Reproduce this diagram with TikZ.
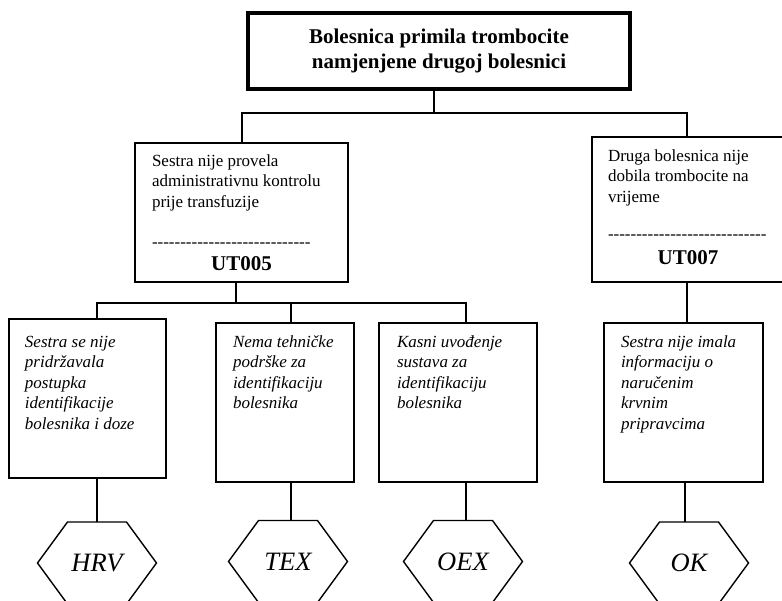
\documentclass[tikz,border=0pt]{standalone}
\usepackage{fontspec}
\setmainfont{Liberation Serif}
\usetikzlibrary{calc}
\newcount\dashcnt
\newcommand\dashrow[1]{\dashcnt=0 \loop\ifnum\dashcnt<#1 -\kern0pt\advance\dashcnt by 1 \repeat}
\newcommand\boxbody[5]{%
  \begin{minipage}[t][#2][t]{#1}\vspace*{#4}\leftskip=#3\relax\rightskip=0pt plus 1fil\relax
  \fontsize{17}{20.5}\selectfont\rule{0pt}{12pt}#5\end{minipage}}
\newcommand\hexaround[1]{%
  \draw[hexline] ($(#1)+(-59.5,0)$) -- ++(30,-41) -- ++(59,0) -- ++(30,41) -- ++(-30,41) -- ++(-59,0) -- cycle;}
\tikzset{
  conn/.style={line width=1.5pt},
  titlebox/.style={draw, line width=3.4pt, minimum width=382pt, minimum height=76pt, align=center,
    font=\fontsize{21}{25}\selectfont\bfseries, inner sep=0pt, outer sep=0pt},
  cbox/.style={draw, line width=1.5pt, inner sep=0pt, outer sep=0pt, anchor=north west},
  hexlab/.style={inner sep=0pt, font=\fontsize{26.5}{30}\selectfont\itshape},
  hexline/.style={line width=1.4pt, line join=miter},
}
\begin{document}
\begin{tikzpicture}[x=1pt, y=-1pt]
\useasboundingbox (0,0) rectangle (782,600);
\clip (0,0) rectangle (782,600);

% top event
\node[titlebox] (title) at (439,51) {Bolesnica primila trombocite\\namjenjene drugoj bolesnici};

% intermediate events
\node[cbox] (ut005) at (135,143) {\boxbody{213pt}{139pt}{17pt}{11pt}{%
  Sestra nije provela\\administrativnu kontrolu\\prije transfuzije\par
  \vspace{19.5pt}\dashrow{28}\par
  {\centering\fontsize{21}{23.5}\selectfont\bfseries UT005\par}}};
\node[cbox] (ut007) at (592,137) {\boxbody{192pt}{145pt}{16pt}{12pt}{%
  Druga bolesnica nije\\dobila trombocite na\\vrijeme\par
  \vspace{16.5pt}\dashrow{28}\par
  {\centering\fontsize{21}{25.5}\selectfont\bfseries UT007\par}}};

% basic causes
\node[cbox] (b1) at (9,319) {\boxbody{157pt}{159pt}{16pt}{16pt}{\itshape
  Sestra se nije\\pridržavala\\postupka\\identifikacije\\bolesnika i doze}};
\node[cbox] (b2) at (216,323) {\boxbody{138pt}{159pt}{17pt}{12pt}{\itshape
  Nema tehničke\\podrške za\\identifikaciju\\bolesnika}};
\node[cbox] (b3) at (379,323) {\boxbody{158pt}{159pt}{18pt}{12pt}{\itshape
  Kasni uvođenje\\sustava za\\identifikaciju\\bolesnika}};
\node[cbox] (b4) at (604,323) {\boxbody{159pt}{159pt}{17pt}{12pt}{\itshape
  Sestra nije imala\\informaciju o\\naručenim\\krvnim\\pripravcima}};

% hexagons
\node[hexlab] (hrv) at (97,563) {HRV};
\node[hexlab] (tex) at (288,561.5) {TEX};
\node[hexlab] (oex) at (463,561.5) {OEX};
\node[hexlab] (ok)  at (689,563) {OK};
\hexaround{hrv}
\hexaround{tex}
\hexaround{oex}
\hexaround{ok}
\coordinate (hrvtop) at ($(hrv)+(0,-41)$);
\coordinate (textop) at ($(tex)+(0,-41)$);
\coordinate (oextop) at ($(oex)+(0,-41)$);
\coordinate (oktop)  at ($(ok)+(0,-41)$);

% junctions
\coordinate (j0) at (434,113);
\coordinate (jL) at (242,113);
\coordinate (jR) at (687,113);
\coordinate (j1) at (236,303);
\coordinate (k1) at (97,303);
\coordinate (k2) at (291,303);
\coordinate (k3) at (466,303);
\coordinate (k4) at (685,500);

% connectors
\draw[conn] (title.south -| j0) -- (j0);
\draw[conn] (jL |- ut005.north) -- (jL) -- (jR) -- (jR |- ut007.north);
\draw[conn] (ut005.south -| j1) -- (j1);
\draw[conn] (k1 |- b1.north) -- (k1) -- (k3) -- (k3 |- b3.north);
\draw[conn] (k2) -- (k2 |- b2.north);
\draw[conn] (ut007.south -| jR) -- (b4.north -| jR);
\draw[conn] (b1.south -| hrv) -- (hrvtop);
\draw[conn] (b2.south -| k2) -- (textop -| k2);
\draw[conn] (b3.south -| k3) -- (oextop -| k3);
\draw[conn] (b4.south -| k4) -- (oktop -| k4);
\end{tikzpicture}
\end{document}
